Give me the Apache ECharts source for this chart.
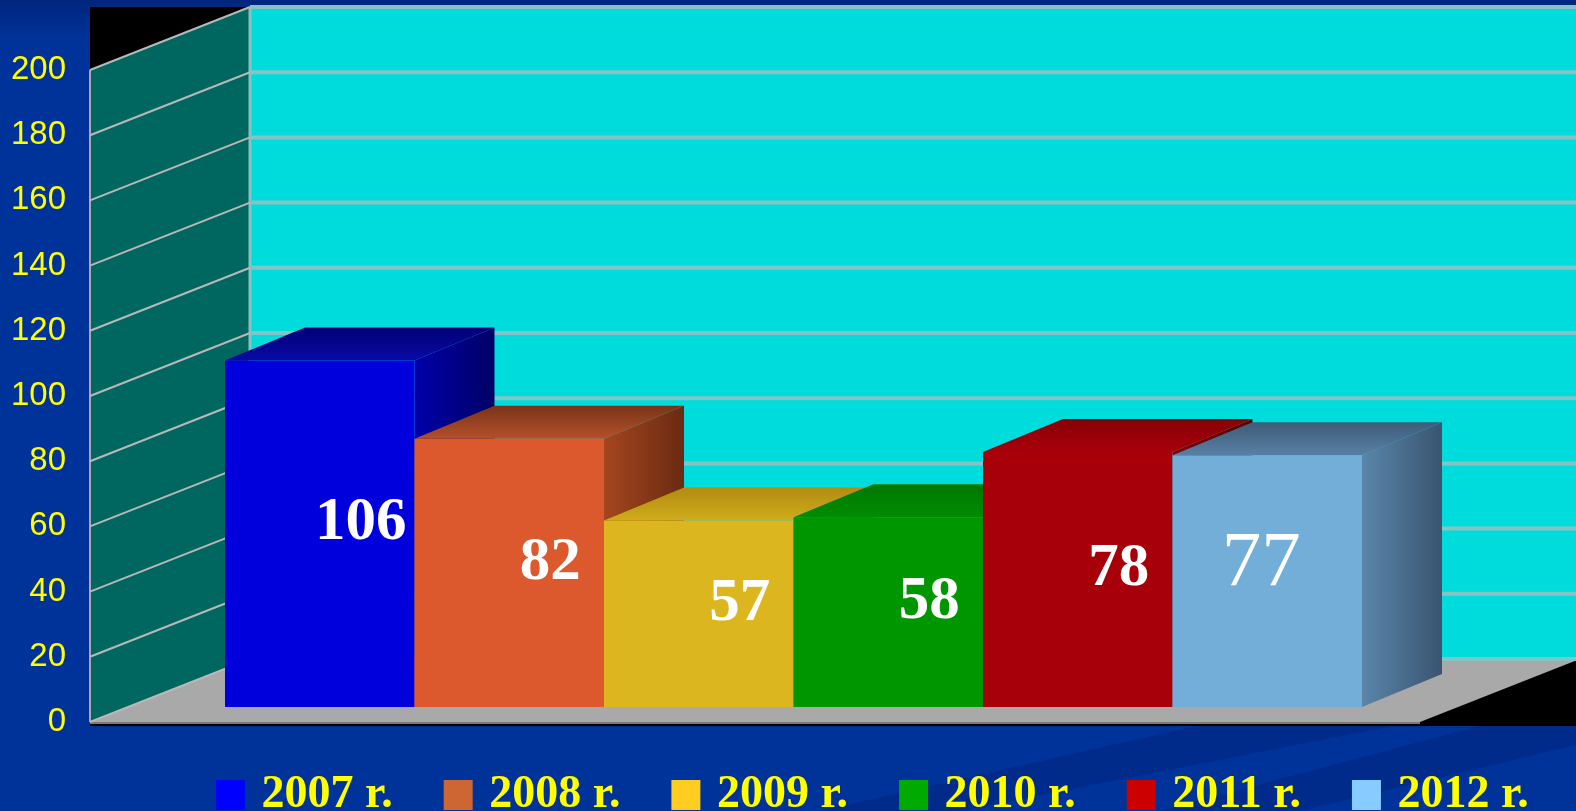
<!DOCTYPE html>
<html>
<head>
<meta charset="utf-8">
<title>2007-2012</title>
<script src="https://cdn.jsdelivr.net/npm/echarts@6.0.0/dist/echarts.min.js"></script>
<style>
  html, body { margin: 0; padding: 0; background: #003399; }
  #main { width: 1576px; height: 811px; }
</style>
</head>
<body>
<div id="main"></div>
<script>
// данные
var years = ["2007 r.", "2008 r.", "2009 r.", "2010 r.", "2011 r.", "2012 r."];
var values = [106, 82, 57, 58, 78, 77];
var yTicks = [0, 20, 40, 60, 80, 100, 120, 140, 160, 180, 200];

// цвета: легенда, передняя грань, верх (дальний, ближний), бок (ближний, дальний)
var legendColors = ["#0000ff", "#cc6633", "#ffcc22", "#00aa00", "#cc0000", "#88ccff"];
var frontColors = ["#0000dc", "#dc592e", "#dcb61e", "#009600", "#a8000a", "#72aed8"];
var topColors = [
  ["#000078", "#0a0aa4"],
  ["#7a3418", "#b4502a"],
  ["#b08c12", "#d0ac1c"],
  ["#007800", "#008c00"],
  ["#880006", "#a8000a"],
  ["#3e5c78", "#5880a4"]
];
var sideColors = [
  ["#0000aa", "#000066"],
  ["#a4461e", "#6a2a12"],
  ["#a88a12", "#806a0c"],
  ["#007000", "#004c00"],
  ["#800006", "#5a0004"],
  ["#5a86aa", "#3a5470"]
];

// глубина стенок и столбиков (пиксели)
var WALL_DEPTH = [160, -63];
var BAR_DEPTH = [80, -33];

(function () {
  var myChart = echarts.init(document.getElementById("main"));
  var yMax = yTicks[yTicks.length - 1];
  var step = yTicks[1] - yTicks[0];

  // стенки, пол и фон области построения
  function renderFrame(params, api) {
    var dx = WALL_DEPTH[0], dy = WALL_DEPTH[1];
    var fl = api.coord([0, 0]);
    var fr = api.coord([1, 0]);
    var tl = api.coord([0, yMax]);
    return {
      type: "group",
      children: [
        {
          type: "rect",
          shape: { x: fl[0], y: tl[1] + dy, width: fr[0] + dx - fl[0], height: fl[1] + 4 - (tl[1] + dy) },
          style: { fill: "#000000" }
        },
        {
          type: "rect",
          shape: { x: fl[0] + dx, y: tl[1] + dy, width: fr[0] - fl[0], height: fl[1] - tl[1] },
          style: { fill: "#00dcdc" }
        },
        {
          type: "polygon",
          shape: { points: [fl, tl, [tl[0] + dx, tl[1] + dy], [fl[0] + dx, fl[1] + dy]] },
          style: { fill: "#006660" }
        },
        {
          type: "polygon",
          shape: { points: [fl, [fl[0] + dx, fl[1] + dy], [fr[0] + dx, fr[1] + dy], fr] },
          style: { fill: "#a9a9a9" }
        },
        {
          type: "line",
          shape: { x1: fl[0], y1: fl[1] + 1, x2: fr[0], y2: fr[1] + 1 },
          style: { stroke: "#7a7a7a", lineWidth: 2 }
        },
        {
          type: "line",
          shape: { x1: fl[0], y1: fl[1], x2: tl[0], y2: tl[1] },
          style: { stroke: "#a8a8a8", lineWidth: 2 }
        },
        {
          type: "line",
          shape: { x1: fl[0] + dx, y1: fl[1] + dy, x2: tl[0] + dx, y2: tl[1] + dy },
          style: { stroke: "#86c2c2", lineWidth: 3 }
        }
      ]
    };
  }

  // линии сетки на левой и задней стенке
  function renderGrid(params, api) {
    var dx = WALL_DEPTH[0], dy = WALL_DEPTH[1];
    var p = api.coord([0, api.value(1)]);
    var right = api.coord([1, 0])[0] + dx;
    return {
      type: "group",
      children: [
        {
          type: "line",
          shape: { x1: p[0], y1: p[1], x2: p[0] + dx, y2: p[1] + dy },
          style: { stroke: "#b8b8b8", lineWidth: 2 }
        },
        {
          type: "line",
          shape: { x1: p[0] + dx, y1: p[1] + dy, x2: right, y2: p[1] + dy },
          style: { stroke: "#84c4c4", lineWidth: 4 }
        }
      ]
    };
  }

  // объёмный столбик
  function makeBar(i, look) {
    return function (params, api) {
      var c = api.value(0), v = api.value(1);
      var base = api.coord([c, 0]);
      var topP = api.coord([c, v]);
      var w = api.size([1, 0])[0];
      var l = base[0] - w / 2, r = base[0] + w / 2, t = topP[1], b = base[1];
      var dx = BAR_DEPTH[0], dy = BAR_DEPTH[1];
      return {
        type: "group",
        children: [
          {
            type: "polygon",
            shape: { points: [[r, t], [r + dx, t + dy], [r + dx, b + dy], [r, b]] },
            style: {
              fill: new echarts.graphic.LinearGradient(0, 0, 1, 0, [
                { offset: 0, color: sideColors[i][0] },
                { offset: 1, color: sideColors[i][1] }
              ])
            }
          },
          {
            type: "polygon",
            shape: { points: [[l, t], [l + dx, t + dy], [r + dx, t + dy], [r, t]] },
            style: {
              fill: new echarts.graphic.LinearGradient(0, 0, 0, 1, [
                { offset: 0, color: topColors[i][0] },
                { offset: 1, color: topColors[i][1] }
              ])
            }
          },
          {
            type: "rect",
            shape: { x: l, y: t, width: w, height: b - t },
            style: { fill: frontColors[i] }
          },
          {
            type: "text",
            style: {
              text: String(v),
              x: base[0] + look.dx,
              y: (t + b) / 2 + look.dy,
              fill: "#ffffff",
              fontFamily: "Liberation Serif",
              fontWeight: look.weight,
              fontSize: look.size,
              align: "center",
              verticalAlign: "middle"
            }
          }
        ]
      };
    };
  }

  var series = [
    {
      name: "frame",
      type: "custom",
      xAxisIndex: 0,
      yAxisIndex: 0,
      z: 1,
      silent: true,
      renderItem: renderFrame,
      data: [[0, 0]]
    },
    {
      name: "grid",
      type: "custom",
      xAxisIndex: 0,
      yAxisIndex: 0,
      z: 2,
      silent: true,
      renderItem: renderGrid,
      data: yTicks.map(function (v) { return [0, v]; })
    }
  ];

  years.forEach(function (name, i) {
    // подпись 2012 г. набрана другим шрифтом
    var look = i === years.length - 1
      ? { dx: -6, dy: -17, size: 79, weight: "normal" }
      : { dx: 41, dy: -10, size: 61, weight: "bold" };
    series.push({
      name: name,
      type: "custom",
      xAxisIndex: 1,
      yAxisIndex: 1,
      z: 10 + i,
      itemStyle: { color: legendColors[i] },
      renderItem: makeBar(i, look),
      data: [[i, values[i]]]
    });
  });

  var option = {
    animation: false,
    backgroundColor: new echarts.graphic.LinearGradient(0, 0, 0, 1, [
      { offset: 0, color: "#00267e" },
      { offset: 0.05, color: "#003399" },
      { offset: 1, color: "#003399" }
    ]),
    graphic: [
      {
        type: "polygon",
        z: 0,
        shape: { points: [[820, 811], [960, 811], [1576, 690], [1576, 640]] },
        style: { fill: "rgba(0, 20, 90, 0.22)" }
      },
      {
        type: "polygon",
        z: 0,
        shape: { points: [[1160, 811], [1300, 811], [1576, 745], [1576, 700]] },
        style: { fill: "rgba(0, 20, 90, 0.22)" }
      }
    ],
    legend: {
      data: years,
      left: 211,
      top: 767,
      icon: "rect",
      itemWidth: 29,
      itemHeight: 30,
      itemGap: 51,
      selectedMode: false,
      formatter: function (name) {
        return " " + name;
      },
      textStyle: {
        color: "#ffff00",
        fontFamily: "Liberation Serif",
        fontWeight: "bold",
        fontSize: 46
      }
    },
    grid: [
      { left: 90, top: 70, width: 1330, height: 652, outerBoundsMode: "none" },
      { left: 225, top: 53, width: 1137, height: 654, outerBoundsMode: "none" }
    ],
    xAxis: [
      { type: "value", gridIndex: 0, min: 0, max: 1, show: false },
      { type: "category", gridIndex: 1, data: years, show: false }
    ],
    yAxis: [
      {
        type: "value",
        gridIndex: 0,
        min: 0,
        max: yMax,
        interval: step,
        axisLine: { show: false },
        axisTick: { show: false },
        splitLine: { show: false },
        axisLabel: {
          color: "#ffff00",
          fontFamily: "Liberation Sans",
          fontSize: 33,
          margin: 24,
          padding: [20, 0, 0, 0]
        }
      },
      { type: "value", gridIndex: 1, min: 0, max: yMax, show: false }
    ],
    series: series
  };

  myChart.setOption(option);
  window.addEventListener("resize", function () {
    myChart.resize();
  });
})();
</script>
</body>
</html>
